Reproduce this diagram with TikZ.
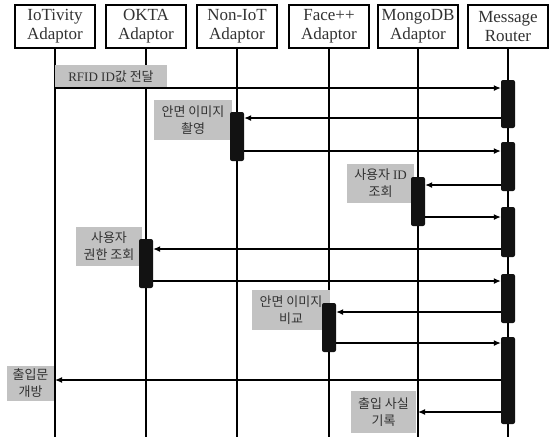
\documentclass[tikz,border=0pt]{standalone}
\usepackage{fontspec}
\setmainfont{Liberation Serif}
\newfontfamily\krfont{Noto Sans CJK KR}
\usetikzlibrary{arrows.meta,positioning}
\definecolor{LabelGray}{RGB}{194,194,194}
\definecolor{BarBlack}{RGB}{18,18,18}
\definecolor{TextDark}{RGB}{50,50,50}

\begin{document}
\begin{tikzpicture}[x=1pt,y=-1pt,>={Latex[length=7pt,width=6pt]},
    head/.style={draw,line width=1.2pt,minimum width=80pt,minimum height=43pt,
      inner sep=1pt,align=center,text=TextDark,font=\fontsize{17}{19}\selectfont},
    life/.style={line width=1.2pt},
    bar/.style={fill=BarBlack,rounded corners=2pt,minimum width=14pt,inner sep=0pt},
    msg/.style={->,line width=1.2pt},
    note/.style={fill=LabelGray,inner sep=0pt,align=center,text=TextDark,
      font=\krfont\fontsize{13}{17}\selectfont}]
  \useasboundingbox (0,0) rectangle (551,440);
  % participants
  \node[head] (io) at (55,26.5) {IoTivity\\Adaptor};
  \node[head] (ok) at (146,26.5) {OKTA\\Adaptor};
  \node[head] (ni) at (237,26.5) {Non-IoT\\Adaptor};
  \node[head] (fc) at (329,26.5) {Face++\\Adaptor};
  \node[head] (mg) at (418,26.5) {MongoDB\\Adaptor};
  \node[head] (rt) at (508,26.5) {Message\\Router};
  % lifelines
  \foreach \p in {io,ok,ni,fc,mg,rt}{
    \coordinate (\p end) at (\p |- 0,437);
    \draw[life] (\p) -- (\p end);
  }
  % message heights
  \foreach \n/\y in {1/88,2/118,3/151,4/185,5/217,6/249,7/281,8/312,9/343,10/380,11/412}
    \coordinate (m\n) at (0,\y);
  % labels
  \node[note,minimum width=112pt,minimum height=23pt] (l1) at (111,76.5) {{\rmfamily RFID ID}값 전달};
  \node[note,minimum width=78pt,minimum height=40pt] (l2) at (193,120) {안면 이미지\\촬영};
  \node[note,minimum width=67pt,minimum height=39pt] (l3) at (380.5,183.5) {사용자 {\rmfamily ID}\\조회};
  \node[note,minimum width=66pt,minimum height=39pt] (l4) at (109,246.5) {사용자\\권한 조회};
  \node[note,minimum width=78pt,minimum height=40pt] (l5) at (291,310) {안면 이미지\\비교};
  \node[note,minimum width=47pt,minimum height=35pt] (l6) at (30.5,383.5) {출입문\\개방};
  \node[note,minimum width=65pt,minimum height=42pt] (l7) at (383.5,412) {출입 사실\\기록};
  % activation bars
  \node[bar,minimum height=48pt] (rt1) at (508,104) {};
  \node[bar,minimum height=49pt] (ni1) at (237,136.5) {};
  \node[bar,minimum height=49pt] (rt2) at (508,166.5) {};
  \node[bar,minimum height=49pt] (mg1) at (418,201.5) {};
  \node[bar,minimum height=50pt] (rt3) at (508,232) {};
  \node[bar,minimum height=49pt] (ok1) at (146,263.5) {};
  \node[bar,minimum height=49pt] (rt4) at (508,298.5) {};
  \node[bar,minimum height=49pt] (fc1) at (329,327.5) {};
  \node[bar,minimum height=87pt] (rt5) at (508,380.5) {};
  % messages
  \draw[msg] (io |- m1) -- (rt1.west |- m1);
  \draw[msg] (rt1.west |- m2) -- (ni1.east |- m2);
  \draw[msg] (ni1.east |- m3) -- (rt2.west |- m3);
  \draw[msg] (rt2.west |- m4) -- (mg1.east |- m4);
  \draw[msg] (mg1.east |- m5) -- (rt3.west |- m5);
  \draw[msg] (rt3.west |- m6) -- (ok1.east |- m6);
  \draw[msg] (ok1.east |- m7) -- (rt4.west |- m7);
  \draw[msg] (rt4.west |- m8) -- (fc1.east |- m8);
  \draw[msg] (fc1.east |- m9) -- (rt5.west |- m9);
  \draw[msg] (rt5.west |- m10) -- (io |- m10);
  \draw[msg] (rt5.west |- m11) -- (mg |- m11);
\end{tikzpicture}
\end{document}
